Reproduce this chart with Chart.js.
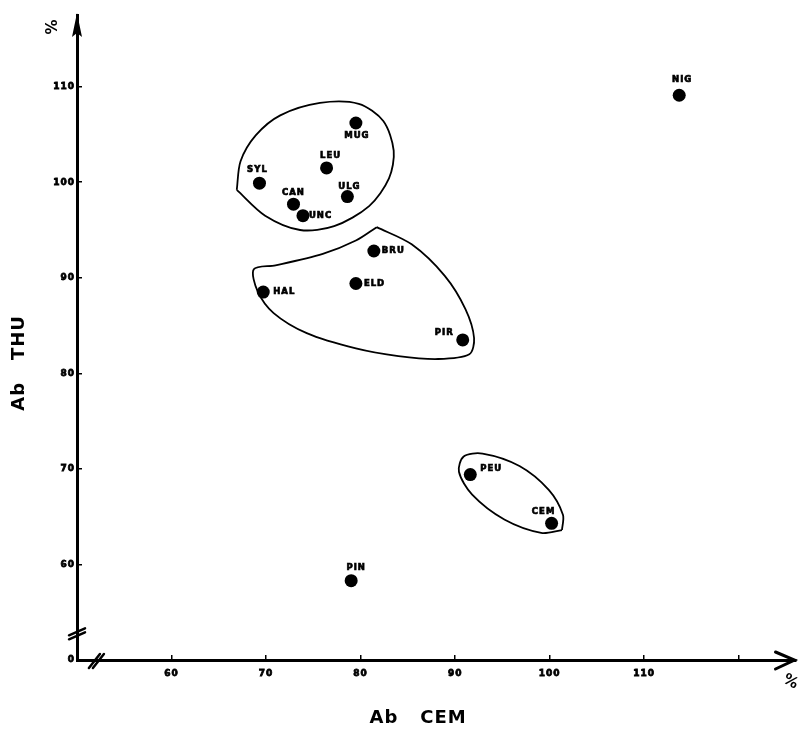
<!DOCTYPE html>
<html>
<head>
<meta charset="utf-8">
<script src="https://cdn.jsdelivr.net/npm/chart.js@4.4.0/dist/chart.umd.min.js"></script>
<style>
  html, body { margin: 0; padding: 0; background: #fff; }
  #grafico { display: block; }
</style>
</head>
<body>
<canvas id="grafico" width="802" height="729"></canvas>
<script>
// especies y sus valores (Ab CEM en x, Ab THU en y), en %
const especies = ["NIG", "MUG", "LEU", "SYL", "CAN", "UNC", "ULG", "BRU", "ELD", "HAL", "PIR", "PEU", "CEM", "PIN"];
const abCEM = [113.7, 79.5, 76.4, 69.3, 72.9, 73.9, 78.6, 81.4, 79.5, 69.7, 90.8, 91.6, 100.2, 79.0];
const abTHU = [109.1, 106.2, 101.5, 99.9, 97.7, 96.5, 98.5, 92.8, 89.4, 88.5, 83.5, 69.4, 64.3, 58.3];

// contornos dibujados a mano alrededor de los grupos
const grupo1CEM = [66.9, 67.3, 68.9, 71.5, 75.7, 79.8, 82.4, 83.5, 83.0, 80.9, 77.2, 73.6, 69.9, 66.9];
const grupo1THU = [99.2, 102.2, 104.9, 107.0, 108.3, 108.2, 106.4, 103.3, 100.4, 97.5, 95.4, 95.0, 96.5, 99.2];
const grupo2CEM = [81.7, 85.4, 88.9, 91.1, 92.0, 91.5, 88.2, 84.0, 79.5, 74.3, 70.8, 69.1, 68.7, 71.0, 76.0, 79.5, 81.7];
const grupo2THU = [95.3, 93.5, 90.2, 86.7, 83.7, 82.0, 81.5, 81.8, 82.6, 84.2, 86.3, 88.6, 90.9, 91.3, 92.5, 93.9, 95.3];
const grupo3CEM = [101.3, 99.1, 95.2, 91.8, 90.4, 90.9, 92.9, 96.8, 99.9, 101.4, 101.3];
const grupo3THU = [63.6, 63.3, 64.7, 67.3, 69.7, 71.3, 71.6, 70.3, 67.8, 65.2, 63.6];

// etiquetas de los ejes
const ticksX = [60, 70, 80, 90, 100, 110];
const ticksY = [60, 70, 80, 90, 100, 110];
const tituloX = "Ab   CEM     ";
const tituloY = "Ab   THU       ";

// desplazamiento de cada etiqueta respecto a su punto (px) y alineacion
const posEtiqueta = [
  [3, -15, "center"], [1, 13, "center"], [4, -12, "center"], [-2, -13, "center"],
  [0, -11, "center"], [6, 0, "left"], [2, -10, "center"], [8, 0, "left"],
  [8, 0, "left"], [10, 0, "left"], [-9, -7, "right"], [10, -6, "left"],
  [-8, -12, "center"], [5, -13, "center"]
];

function unir(xs, ys) {
  return xs.map((x, i) => ({ x: x, y: ys[i] }));
}

function contorno(xs, ys) {
  return {
    data: unir(xs, ys),
    showLine: true,
    borderColor: "#000",
    borderWidth: 1.8,
    pointRadius: 0,
    tension: 0.3,
    fill: false,
  };
}

const fuente = "'DejaVu Sans', sans-serif";

// espaciado de letras para ejes
const espaciado = {
  id: "espaciado",
  beforeDraw(chart) {
    chart.ctx.letterSpacing = "1px";
  },
  beforeDatasetsDraw(chart) {
    chart.ctx.letterSpacing = "0px";
  },
};

// nombres de las especies junto a cada punto
const etiquetas = {
  id: "etiquetas",
  afterDatasetsDraw(chart) {
    const ctx = chart.ctx;
    const meta = chart.getDatasetMeta(3);
    ctx.save();
    ctx.font = "bold 8.5px " + fuente;
    ctx.letterSpacing = "1px";
    ctx.fillStyle = "#000";
    ctx.strokeStyle = "#000";
    ctx.lineWidth = 0.7;
    ctx.textBaseline = "middle";
    meta.data.forEach((p, i) => {
      const pos = posEtiqueta[i];
      ctx.textAlign = pos[2];
      ctx.fillText(especies[i], p.x + pos[0], p.y + pos[1]);
      ctx.strokeText(especies[i], p.x + pos[0], p.y + pos[1]);
    });
    ctx.restore();
  },
};

// flechas, cortes de eje y signos %
const ejes = {
  id: "ejes",
  afterDraw(chart) {
    const ctx = chart.ctx;
    const sx = chart.scales.x;
    const sy = chart.scales.y;
    const x0 = sy.right;
    const y0 = sx.top;
    const area = chart.chartArea;
    ctx.save();
    ctx.fillStyle = "#000";
    ctx.strokeStyle = "#000";

    // flecha del eje y
    ctx.beginPath();
    ctx.moveTo(x0, area.top - 2);
    ctx.lineTo(x0 + 5, area.top + 22);
    ctx.lineTo(x0, area.top + 18);
    ctx.lineTo(x0 - 5, area.top + 22);
    ctx.closePath();
    ctx.fill();

    // flecha del eje x
    ctx.lineWidth = 3;
    ctx.lineCap = "round";
    ctx.beginPath();
    ctx.moveTo(area.right - 20, y0 - 8);
    ctx.lineTo(area.right - 1, y0);
    ctx.lineTo(area.right - 20, y0 + 9);
    ctx.stroke();

    // cortes de los ejes
    ctx.lineWidth = 2.5;
    const cy = sy.getPixelForValue(52.9);
    for (let k = 0; k < 2; k++) {
      ctx.beginPath();
      ctx.moveTo(x0 - 8, cy + 3 + k * 4);
      ctx.lineTo(x0 + 8, cy - 4 + k * 4);
      ctx.stroke();
    }
    const cx = sx.getPixelForValue(52.0);
    for (let k = 0; k < 2; k++) {
      ctx.beginPath();
      ctx.moveTo(cx - 7 + k * 4, y0 + 8);
      ctx.lineTo(cx + 4 + k * 4, y0 - 6);
      ctx.stroke();
    }

    // signos %
    ctx.font = "bold 15px " + fuente;
    ctx.textAlign = "center";
    ctx.textBaseline = "middle";
    ctx.save();
    ctx.translate(x0 - 24, area.top + 12);
    ctx.rotate(-Math.PI / 2);
    ctx.fillText("%", 0, 0);
    ctx.restore();
    ctx.save();
    ctx.translate(area.right - 5, y0 + 22);
    ctx.rotate(Math.PI / 6);
    ctx.fillText("%", 0, 0);
    ctx.restore();
    ctx.restore();
  },
};

const datos = {
  datasets: [
    contorno(grupo1CEM, grupo1THU),
    contorno(grupo2CEM, grupo2THU),
    contorno(grupo3CEM, grupo3THU),
    {
      data: unir(abCEM, abTHU),
      pointRadius: 6.5,
      pointHoverRadius: 6.5,
      backgroundColor: "#000",
      borderWidth: 0,
    },
  ],
};

const config = {
  type: "scatter",
  data: datos,
  options: {
    responsive: false,
    animation: false,
    devicePixelRatio: 1,
    layout: { padding: { top: 15, right: 2, left: 0, bottom: 0 } },
    plugins: { legend: { display: false }, tooltip: { enabled: false } },
    scales: {
      x: {
        type: "linear",
        position: "bottom",
        min: 50,
        max: 126,
        afterFit(s) {
          s.height = 69;
          s.paddingLeft = 0;
          s.paddingRight = 0;
        },
        border: { color: "#000", width: 3 },
        grid: { drawOnChartArea: false, color: "#000", lineWidth: 1.5, tickLength: -5 },
        ticks: {
          stepSize: 10,
          autoSkip: false,
          maxRotation: 0,
          padding: 13,
          color: "#000",
          textStrokeColor: "#000",
          textStrokeWidth: 0.8,
          font: { family: fuente, size: 9, weight: "bold" },
          callback: (v) => (ticksX.includes(v) ? String(v) : v === 120 ? "" : null),
        },
        title: {
          display: true,
          text: tituloX,
          color: "#000",
          font: { family: fuente, size: 18, weight: "bold" },
          padding: { top: 0, bottom: 0 },
        },
      },
      y: {
        type: "linear",
        position: "left",
        min: 50,
        max: 117.5,
        afterFit(s) {
          s.width = 77;
          s.paddingTop = 0;
          s.paddingBottom = 0;
        },
        border: { color: "#000", width: 3 },
        grid: { drawOnChartArea: false, color: "#000", lineWidth: 1.5, tickLength: -5 },
        ticks: {
          stepSize: 10,
          autoSkip: false,
          padding: 7,
          color: "#000",
          textStrokeColor: "#000",
          textStrokeWidth: 0.8,
          font: { family: fuente, size: 9, weight: "bold" },
          callback: (v) => (v === 50 ? "0" : ticksY.includes(v) ? String(v) : null),
        },
        title: {
          display: true,
          text: tituloY,
          color: "#000",
          font: { family: fuente, size: 18, weight: "bold" },
          padding: { top: 9, bottom: 0 },
        },
      },
    },
  },
  plugins: [espaciado, etiquetas, ejes],
};

const ctx = document.getElementById("grafico").getContext("2d");
new Chart(ctx, config);
</script>
</body>
</html>
